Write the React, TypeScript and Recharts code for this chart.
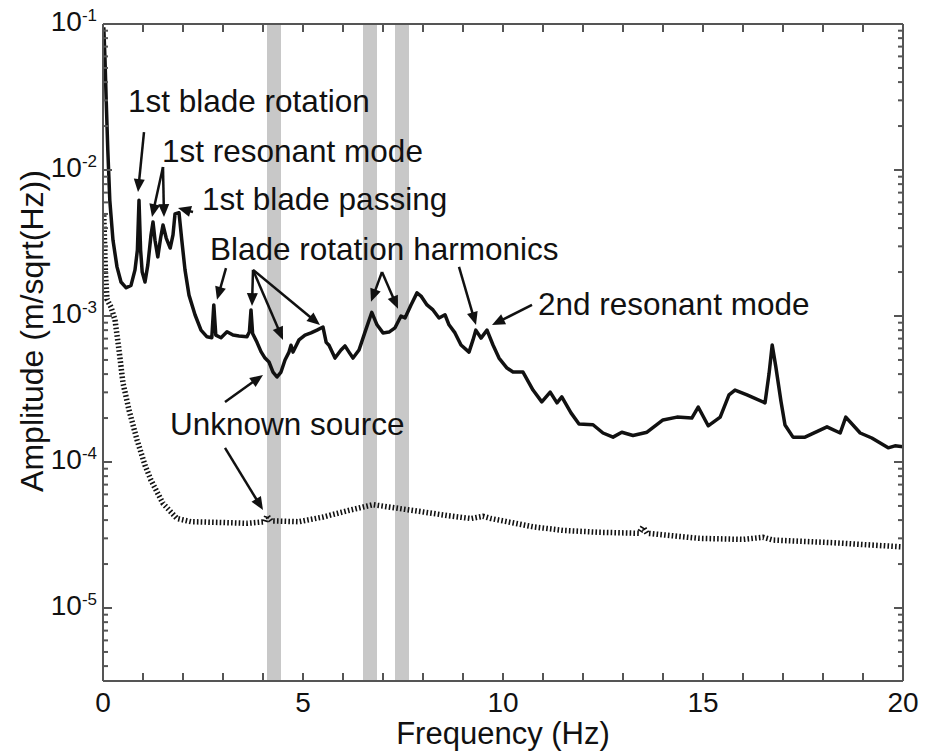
import { LineChart, Line, XAxis, YAxis, ReferenceArea, ReferenceLine, ReferenceDot } from 'recharts'

const FONT = '"Liberation Sans", Arial, Helvetica, sans-serif'
const INK = '#111'
const AXIS = '#555'
const BAND = '#c8c8c8'

// turbine tower response, solid = measured, dotted = background
const solidFreq = [
  0.02, 0.05, 0.08, 0.12, 0.17, 0.25, 0.35, 0.45, 0.58, 0.7, 0.8, 0.86, 0.9, 0.94, 0.98,
  1.05, 1.12, 1.2, 1.25, 1.3, 1.37, 1.44, 1.5, 1.58, 1.68, 1.75, 1.8, 1.9, 1.97, 2.05,
  2.15, 2.3, 2.45, 2.6, 2.72, 2.77, 2.82, 2.95, 3.1, 3.25, 3.4, 3.6, 3.66, 3.7, 3.74,
  3.85, 3.95, 4.05, 4.15, 4.25, 4.35, 4.45, 4.55, 4.65, 4.7, 4.75, 4.9, 5.05, 5.2, 5.35,
  5.5, 5.58, 5.65, 5.8, 5.95, 6.05, 6.15, 6.25, 6.4, 6.55, 6.72, 6.85, 7.0, 7.15, 7.3,
  7.45, 7.55, 7.7, 7.85, 7.95, 8.1, 8.25, 8.4, 8.55, 8.65, 8.8, 8.95, 9.15, 9.25, 9.32,
  9.45, 9.6, 9.75, 9.9, 10.1, 10.25, 10.5, 10.75, 10.97, 11.18, 11.35, 11.47, 11.7, 11.9,
  12.25, 12.5, 12.75, 12.97, 13.25, 13.6, 14.0, 14.35, 14.72, 14.88, 15.13, 15.43, 15.65,
  15.8, 16.1, 16.55, 16.65, 16.73, 16.82, 16.95, 17.05, 17.25, 17.55, 18.1, 18.43, 18.57,
  18.93, 19.22, 19.63, 19.8, 20,
]
const solidAmp = [
  9.5e-2, 5.7e-2, 3.0e-2, 1.37e-2, 6.2e-3, 3.3e-3, 2.17e-3, 1.71e-3, 1.56e-3, 1.62e-3, 2.07e-3, 2.83e-3, 6.2e-3, 2.83e-3, 2.0e-3,
  1.71e-3, 2.23e-3, 3.59e-3, 4.4e-3, 3.3e-3, 2.54e-3, 3.42e-3, 4.2e-3, 3.42e-3, 2.92e-3, 3.59e-3, 5.0e-3, 5.1e-3, 3.3e-3, 2.07e-3,
  1.39e-3, 1.02e-3, 8.0e-4, 7.2e-4, 7.1e-4, 1.19e-3, 7.4e-4, 7.1e-4, 7.8e-4, 7.4e-4, 7.3e-4, 7.2e-4, 7.8e-4, 1.1e-3, 7.6e-4,
  6.6e-4, 5.7e-4, 5.15e-4, 4.84e-4, 4.13e-4, 3.82e-4, 4.13e-4, 5.0e-4, 5.66e-4, 6.3e-4, 5.66e-4, 6.86e-4, 7.4e-4, 7.66e-4, 8.0e-4,
  8.4e-4, 6.6e-4, 6.3e-4, 5.15e-4, 5.85e-4, 6.24e-4, 5.66e-4, 5.15e-4, 5.85e-4, 7.76e-4, 1.06e-3, 8.7e-4, 7.66e-4, 7.76e-4, 8.3e-4,
  1.0e-3, 9.7e-4, 1.19e-3, 1.44e-3, 1.37e-3, 1.19e-3, 1.1e-3, 9.7e-4, 1.02e-3, 8.7e-4, 7.66e-4, 6.33e-4, 5.66e-4, 6.86e-4, 8.0e-4,
  7.06e-4, 8.0e-4, 6.33e-4, 5.15e-4, 4.4e-4, 4.13e-4, 4.13e-4, 3.11e-4, 2.58e-4, 3.01e-4, 2.54e-4, 2.79e-4, 2.17e-4, 1.82e-4,
  1.8e-4, 1.58e-4, 1.48e-4, 1.6e-4, 1.52e-4, 1.6e-4, 1.94e-4, 2.03e-4, 2.0e-4, 2.38e-4, 1.77e-4, 2.03e-4, 2.88e-4,
  3.11e-4, 2.88e-4, 2.54e-4, 4.0e-4, 6.33e-4, 4.5e-4, 2.6e-4, 1.79e-4, 1.48e-4, 1.48e-4, 1.74e-4, 1.58e-4, 2.03e-4,
  1.58e-4, 1.46e-4, 1.25e-4, 1.29e-4, 1.27e-4,
]

const noiseFreq = [
  0.02, 0.06, 0.1, 0.2, 0.3, 0.4, 0.5, 0.65, 0.85, 1.05, 1.2, 1.5, 1.85, 2.2, 3.0, 3.6, 4.05, 4.1,
  4.2, 4.9, 5.5, 6.2, 6.75, 7.3, 8.0, 8.6, 9.2, 9.5, 9.7, 10.75, 11.5, 12.4, 13.4, 13.5, 13.6,
  14.9, 16.0, 16.5, 16.75, 18.25, 20,
]
const noiseAmp = [
  4.9e-3, 2.0e-3, 1.3e-3, 1.15e-3, 9.4e-4, 5.85e-4, 3.48e-4, 2.27e-4, 1.42e-4, 9.5e-5, 7.5e-5, 5.2e-5, 4.1e-5, 3.9e-5, 3.85e-5, 3.8e-5, 3.9e-5, 4.3e-5,
  3.95e-5, 3.9e-5, 4.2e-5, 4.7e-5, 5.1e-5, 4.85e-5, 4.55e-5, 4.3e-5, 4.1e-5, 4.25e-5, 4.1e-5, 3.6e-5, 3.4e-5, 3.3e-5, 3.25e-5, 3.6e-5, 3.25e-5,
  3.0e-5, 2.95e-5, 3.05e-5, 2.92e-5, 2.8e-5, 2.62e-5,
]

// shaded frequency bands (Hz)
const bandStart = [4.1, 6.5, 7.3]
const bandEnd = [4.45, 6.85, 7.65]

const xTicks = Array.from({ length: 21 }, (_, i) => i)
const yMin = Math.pow(10, -5.5)
const yMax = 0.1
const yTicks: number[] = []
for (let d = -6; d <= -1; d++) {
  for (let k = 1; k <= 9; k++) {
    const v = Number((k * Math.pow(10, d)).toPrecision(3))
    if (v >= yMin && v <= yMax) yTicks.push(v)
  }
}

// annotation texts, anchored at (Hz, amplitude) of their left baseline
const labelText = [
  '1st blade rotation',
  '1st resonant mode',
  '1st blade passing',
  'Blade rotation harmonics',
  '2nd resonant mode',
  'Unknown source',
]
const labelFreq = [0.625, 1.475, 2.475, 2.675, 10.875, 1.675]
const labelAmp = [2.49e-2, 1.13e-2, 5.32e-3, 2.42e-3, 1.02e-3, 1.53e-4]

// arrows: tail -> head
const arrowFrom = [
  [1.025, 1.82e-2], [1.5, 1.05e-2], [1.5, 1.05e-2], [2.25, 5.15e-3],
  [3.075, 2.13e-3], [3.75, 2.07e-3], [3.75, 2.07e-3], [3.75, 2.07e-3],
  [6.975, 2.0e-3], [6.975, 2.0e-3], [8.9, 2.17e-3], [10.725, 1.19e-3],
  [3.05, 2.58e-4], [3.05, 1.25e-4],
]
const arrowTo = [
  [0.875, 7.06e-3], [1.225, 4.76e-3], [1.525, 4.76e-3], [1.875, 5.5e-3],
  [2.85, 1.29e-3], [3.725, 1.17e-3], [4.5, 6.86e-4], [5.425, 8.67e-4],
  [6.7, 1.25e-3], [7.375, 1.12e-3], [9.325, 8.67e-4], [9.725, 8.67e-4],
  [4.0, 3.95e-4], [4.0, 4.69e-5],
]

const solidData = solidFreq.map((f, i) => ({ f, amp: solidAmp[i] }))
const noiseData = noiseFreq.map((f, i) => ({ f, amp: noiseAmp[i] }))

const isMajor = (v: number) => {
  const l = Math.log10(v)
  return Math.abs(l - Math.round(l)) < 1e-6
}

const BottomTick = ({ x, y, payload }: any) => (
  <g>
    <line x1={x} x2={x} y1={y} y2={y - 8} stroke={AXIS} strokeWidth={2} />
    {payload.value % 5 === 0 && (
      <text x={x} y={y + 31} textAnchor="middle" fontSize={28} fontFamily={FONT} fill={INK}>
        {payload.value}
      </text>
    )}
  </g>
)

const TopTick = ({ x, y }: any) => (
  <line x1={x} x2={x} y1={y} y2={y + 8} stroke={AXIS} strokeWidth={2} />
)

const LeftTick = ({ x, y, payload }: any) => {
  const major = isMajor(payload.value)
  return (
    <g>
      <line x1={x} x2={x + (major ? 9 : 5)} y1={y} y2={y} stroke={AXIS} strokeWidth={2} />
      {major && (
        <text x={x - 6} y={y + 7} textAnchor="end" fontSize={28} fontFamily={FONT} fill={INK}>
          10
          <tspan dy={-10} fontSize={17}>
            {Math.round(Math.log10(payload.value))}
          </tspan>
        </text>
      )}
    </g>
  )
}

const RightTick = ({ x, y, payload }: any) => {
  const major = isMajor(payload.value)
  return <line x1={x} x2={x - (major ? 9 : 5)} y1={y} y2={y} stroke={AXIS} strokeWidth={2} />
}

const Arrow = (p: any) => {
  const { x1, y1, x2, y2 } = p
  if ([x1, y1, x2, y2].some((v) => typeof v !== 'number' || isNaN(v))) return null
  const dx = x2 - x1
  const dy = y2 - y1
  const len = Math.hypot(dx, dy) || 1
  const ux = dx / len
  const uy = dy / len
  const hl = 13
  const hw = 5.5
  const bx = x2 - ux * hl
  const by = y2 - uy * hl
  return (
    <g>
      {len > hl && <line x1={x1} y1={y1} x2={bx + ux} y2={by + uy} stroke={INK} strokeWidth={2.5} />}
      <polygon points={`${x2},${y2} ${bx - uy * hw},${by + ux * hw} ${bx + uy * hw},${by - ux * hw}`} fill={INK} />
    </g>
  )
}

const axisLine = { stroke: AXIS, strokeWidth: 2 }

export default function App() {
  return (
    <div style={{ position: 'absolute', left: 0, top: 0, background: '#fff' }}>
      <LineChart width={925} height={756} margin={{ top: 20, right: 18, bottom: 25, left: 43 }}>
        <XAxis
          type="number"
          dataKey="f"
          domain={[0, 20]}
          ticks={xTicks}
          interval={0}
          allowDataOverflow
          tick={<BottomTick />}
          tickLine={false}
          tickSize={0}
          tickMargin={0}
          height={50}
          axisLine={axisLine}
          label={() => (
            <text x={503} y={744} textAnchor="middle" fontSize={31} fontFamily={FONT} fill={INK}>
              Frequency (Hz)
            </text>
          )}
        />
        <XAxis
          xAxisId="top"
          orientation="top"
          type="number"
          dataKey="f"
          domain={[0, 20]}
          ticks={xTicks}
          interval={0}
          allowDataOverflow
          tick={<TopTick />}
          tickLine={false}
          tickSize={0}
          tickMargin={0}
          height={4}
          axisLine={axisLine}
        />
        <YAxis
          type="number"
          scale="log"
          domain={[yMin, yMax]}
          ticks={yTicks}
          interval={0}
          allowDataOverflow
          tick={<LeftTick />}
          tickLine={false}
          tickSize={0}
          tickMargin={0}
          width={60}
          axisLine={axisLine}
          label={() => (
            <text
              x={43}
              y={331}
              transform="rotate(-90, 43, 331)"
              textAnchor="middle"
              fontSize={32}
              fontFamily={FONT}
              fill={INK}
            >
              Amplitude (m/sqrt(Hz))
            </text>
          )}
        />
        <YAxis
          yAxisId="right"
          orientation="right"
          type="number"
          scale="log"
          domain={[yMin, yMax]}
          ticks={yTicks}
          interval={0}
          allowDataOverflow
          tick={<RightTick />}
          tickLine={false}
          tickSize={0}
          tickMargin={0}
          width={4}
          axisLine={axisLine}
        />
        {bandStart.map((b, i) => (
          <ReferenceArea key={'band' + i} x1={b} x2={bandEnd[i]} fill={BAND} fillOpacity={1} stroke="none" />
        ))}
        <Line
          data={noiseData}
          dataKey="amp"
          type="linear"
          stroke={INK}
          strokeWidth={5.5}
          strokeDasharray="1.6 2.2"
          dot={false}
          activeDot={false}
          isAnimationActive={false}
        />
        <Line
          data={solidData}
          dataKey="amp"
          type="linear"
          stroke={INK}
          strokeWidth={3.5}
          strokeLinejoin="round"
          dot={false}
          activeDot={false}
          isAnimationActive={false}
        />
        {arrowFrom.map((a, i) => (
          <ReferenceLine
            key={'arrow' + i}
            segment={[
              { x: a[0], y: a[1] },
              { x: arrowTo[i][0], y: arrowTo[i][1] },
            ]}
            shape={Arrow}
          />
        ))}
        {labelText.map((t, i) => (
          <ReferenceDot
            key={'label' + i}
            x={labelFreq[i]}
            y={labelAmp[i]}
            r={0}
            shape={(p: any) => (
              <text x={p.cx} y={p.cy} fontSize={31.5} fontFamily={FONT} fill={INK}>
                {t}
              </text>
            )}
          />
        ))}
      </LineChart>
    </div>
  )
}
